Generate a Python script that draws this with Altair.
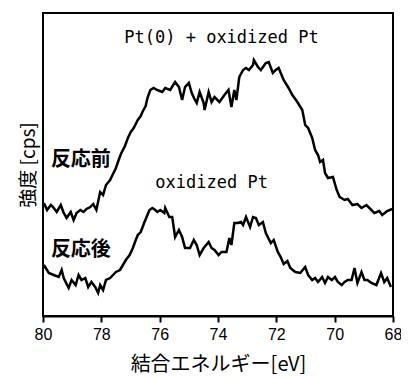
import altair as alt
import pandas as pd

# Binding energy (eV) and intensity (arbitrary units) — before reaction (反応前)
before_ev = [79.97, 79.86, 79.73, 79.63, 79.53, 79.39, 79.29, 79.19, 79.05, 78.95,
             78.85, 78.72, 78.61, 78.51, 78.38, 78.28, 78.17, 78.04, 77.94, 77.84,
             77.70, 77.60, 77.50, 77.43, 77.33, 77.19, 77.09, 76.99, 76.89, 76.75,
             76.65, 76.59, 76.48, 76.42, 76.32, 76.21, 76.08, 75.91, 75.81, 75.64,
             75.47, 75.34, 75.23, 75.13, 75.00, 74.90, 74.79, 74.73, 74.63, 74.49,
             74.46, 74.32, 74.22, 74.12, 73.95, 73.78, 73.64, 73.54, 73.44, 73.37,
             73.27, 73.14, 73.04, 72.94, 72.80, 72.77, 72.63, 72.53, 72.36, 72.26,
             72.12, 72.02, 71.92, 71.75, 71.58, 71.45, 71.28, 71.11, 71.01, 70.91,
             70.77, 70.67, 70.57, 70.50, 70.40, 70.33, 70.23, 70.06, 69.93, 69.83,
             69.66, 69.55, 69.39, 69.22, 69.08, 68.91, 68.74, 68.64, 68.47, 68.37,
             68.20, 68.03]
before_int = [113, 106, 111, 108, 104, 111, 103, 98, 104, 96,
              103, 106, 104, 107, 109, 112, 106, 124, 121, 131,
              136, 142, 148, 154, 162, 170, 178, 184, 188, 196,
              200, 204, 210, 218, 226, 228, 226, 224, 228, 226,
              234, 229, 216, 229, 233, 223, 216, 213, 224, 213,
              206, 224, 214, 219, 214, 221, 226, 209, 226, 216,
              239, 246, 248, 246, 251, 256, 249, 246, 253, 254,
              243, 246, 248, 236, 228, 221, 214, 206, 191, 188,
              178, 166, 161, 154, 156, 143, 138, 139, 126, 119,
              116, 117, 111, 112, 108, 111, 106, 103, 105, 101,
              105, 107]

# After reaction (反応後)
after_ev = [79.97, 79.80, 79.63, 79.46, 79.36, 79.29, 79.19, 79.12, 79.02, 78.88,
            78.78, 78.68, 78.55, 78.45, 78.34, 78.21, 78.11, 78.04, 77.94, 77.84,
            77.70, 77.60, 77.50, 77.36, 77.26, 77.16, 77.03, 76.92, 76.82, 76.75,
            76.65, 76.52, 76.42, 76.35, 76.25, 76.15, 76.08, 75.98, 75.84, 75.81,
            75.67, 75.57, 75.47, 75.34, 75.23, 75.13, 74.96, 74.83, 74.73, 74.63,
            74.49, 74.32, 74.22, 74.12, 73.98, 73.88, 73.71, 73.61, 73.54, 73.44,
            73.31, 73.21, 73.14, 73.04, 72.90, 72.80, 72.70, 72.60, 72.46, 72.36,
            72.19, 72.09, 71.95, 71.85, 71.75, 71.62, 71.52, 71.35, 71.18, 71.01,
            70.91, 70.77, 70.67, 70.57, 70.43, 70.33, 70.23, 70.10, 69.99, 69.89,
            69.76, 69.66, 69.55, 69.42, 69.32, 69.22, 69.08, 68.98, 68.88, 68.74,
            68.57, 68.41, 68.30, 68.20, 68.07]
after_int = [51, 43, 41, 39, 46, 38, 32, 28, 36, 31,
             41, 36, 38, 29, 34, 29, 23, 31, 26, 36,
             38, 41, 44, 46, 51, 56, 61, 68, 76, 81,
             84, 94, 101, 106, 108, 106, 104, 106, 103, 108,
             99, 99, 79, 86, 79, 68, 68, 76, 71, 61,
             68, 74, 68, 66, 61, 64, 64, 78, 71, 93,
             93, 94, 91, 99, 89, 99, 98, 91, 94, 83,
             73, 76, 64, 59, 52, 55, 48, 44, 43, 49,
             41, 36, 38, 34, 39, 33, 39, 36, 39, 34,
             31, 34, 36, 36, 48, 33, 44, 36, 36, 33,
             31, 43, 34, 38, 29]

x_ticks = [80, 78, 76, 74, 72, 70, 68]

df = pd.concat([
    pd.DataFrame({"ev": before_ev, "int": before_int, "s": "before"}),
    pd.DataFrame({"ev": after_ev, "int": after_int, "s": "after"}),
])

xs = alt.Scale(domain=[68, 80], reverse=True, nice=False, zero=False)
ys = alt.Scale(domain=[0, 303], nice=False, zero=False)

lines = alt.Chart(df).mark_line(color="black", strokeWidth=2.5).encode(
    x=alt.X("ev:Q", scale=xs,
            axis=alt.Axis(values=x_ticks, title="結合エネルギー[eV]", format="d",
                          labelFont="Liberation Sans", labelFontSize=16, labelColor="black",
                          labelPadding=4, labelFlush=False, labelOverlap=False,
                          tickSize=6, tickColor="black", tickWidth=2,
                          domain=True, domainColor="black", domainWidth=2, grid=False,
                          titleFont="Noto Sans CJK JP", titleFontSize=20, titleFontWeight="normal",
                          titleColor="black", titlePadding=12)),
    y=alt.Y("int:Q", scale=ys,
            axis=alt.Axis(labels=False, ticks=False, domain=False, grid=False,
                          title="強度 [cps]", titleFont="Noto Sans CJK JP", titleFontSize=19,
                          titleFontWeight="normal", titleColor="black", titlePadding=5)),
    detail="s:N",
)

def label(txt, x, y, size, font, weight="normal", align="center"):
    return alt.Chart().mark_text(text=txt, font=font, fontSize=size, fontWeight=weight,
                                 color="black", align=align, baseline="middle").encode(
        x=alt.datum(x, scale=xs), y=alt.datum(y, scale=ys))

texts = [
    label("Pt(0) + oxidized Pt", 73.88, 278, 17, "DejaVu Sans Mono"),
    label("反応前", 79.73, 156, 20, "Noto Sans CJK JP", "bold", "left"),
    label("oxidized Pt", 74.22, 133, 17, "DejaVu Sans Mono"),
    label("反応後", 79.73, 66, 20, "Noto Sans CJK JP", "bold", "left"),
]

chart = alt.layer(lines, *texts).properties(
    width=350, height=303,
    autosize=alt.AutoSizeParams(type="none"),
    padding={"left": 35, "top": 5, "right": 8, "bottom": 62},
).configure_view(stroke="black", strokeWidth=2)

chart.save("out.html", embed_options={"renderer": "svg", "actions": False})
